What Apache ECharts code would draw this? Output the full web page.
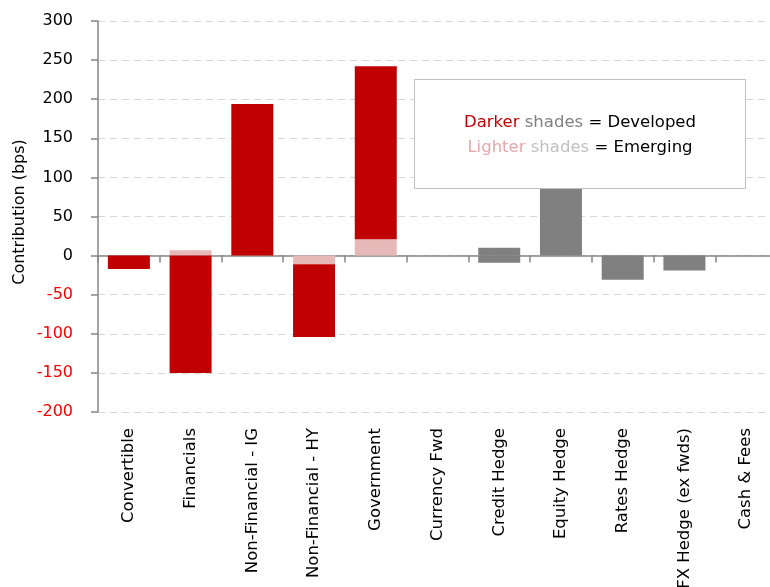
<!DOCTYPE html>
<html>
<head>
<meta charset="utf-8">
<script src="https://cdn.jsdelivr.net/npm/echarts@6/dist/echarts.min.js"></script>
<style>html,body{margin:0;padding:0;background:#fff}#c{width:770px;height:587px}</style>
</head>
<body>
<div id="c"></div>
<script>
var categories = ['Convertible', 'Financials', 'Non-Financial - IG', 'Non-Financial - HY', 'Government', 'Currency Fwd', 'Credit Hedge', 'Equity Hedge', 'Rates Hedge', 'FX Hedge (ex fwds)', 'Cash & Fees'];
var developed = [-17, -150, 194, -93, 221, 0, null, null, null, null, 0];
var emerging = [0, 7, 0, -11, 21, 0, null, null, null, null, 0];
var hedgeLong = [null, null, null, null, null, null, 10, 110, 0, 0, null];
var hedgeShort = [null, null, null, null, null, null, -9, 0, -31, -19, null];
var yTicks = { min: -200, max: 300, interval: 50 };

var FONT = 'DejaVu Sans';
var chart = echarts.init(document.getElementById('c'), null, { renderer: 'canvas' });
chart.setOption({
  animation: false,
  backgroundColor: '#ffffff',
  grid: { left: 98, top: 21, width: 679, height: 391, outerBoundsMode: 'none', containLabel: false },
  xAxis: [{
    type: 'category', data: categories, position: 'bottom',
    axisLine: { onZero: true, lineStyle: { color: '#868686', width: 1.5 } },
    axisTick: { show: true, length: 7, interval: 0, alignWithLabel: false, lineStyle: { color: '#868686', width: 1.5 } },
    axisLabel: { show: false }, splitLine: { show: false }
  }, {
    type: 'category', data: categories, position: 'bottom',
    axisLine: { show: false, onZero: false }, axisTick: { show: false },
    axisLabel: { show: true, rotate: 90, interval: 0, margin: 16, fontFamily: FONT, fontSize: 16.5, color: '#000' },
    splitLine: { show: false }
  }],
  yAxis: {
    type: 'value', min: yTicks.min, max: yTicks.max, interval: yTicks.interval,
    axisLine: { show: true, lineStyle: { color: '#868686', width: 1.5 } },
    axisTick: { show: true, length: 7, lineStyle: { color: '#868686', width: 1.5 } },
    axisLabel: { margin: 25, fontFamily: FONT, fontSize: 16, color: function (v) { return v < 0 ? '#ff0000' : '#000000'; } },
    splitLine: { show: true, lineStyle: { color: '#d9d9d9', type: [7, 5], width: 1 } }
  },
  series: [
    { name: 'Emerging', type: 'bar', stack: 's', data: emerging, barWidth: 42, itemStyle: { color: '#e6b9b8' } },
    { name: 'Developed', type: 'bar', stack: 's', data: developed, barWidth: 42, itemStyle: { color: '#c00000' } },
    { name: 'Hedge +', type: 'bar', stack: 's', data: hedgeLong, barWidth: 42, itemStyle: { color: '#808080' } },
    { name: 'Hedge -', type: 'bar', stack: 's', data: hedgeShort, barWidth: 42, itemStyle: { color: '#808080' } }
  ],
  graphic: [
    { type: 'text', x: 20, y: 212, rotation: Math.PI / 2, style: { text: 'Contribution (bps)', font: '16px "DejaVu Sans"', fill: '#000', align: 'center', verticalAlign: 'middle' } },
    { type: 'rect', z: 100, shape: { x: 414.5, y: 79.5, width: 331, height: 109 }, style: { fill: '#ffffff', stroke: '#bfbfbf', lineWidth: 1 } },
    { type: 'text', z: 101, x: 580, y: 135, style: {
        text: '{a|Darker }{b|shades }{c|= Developed}\n{d|Lighter }{e|shades }{c|= Emerging}',
        align: 'center', verticalAlign: 'middle', lineHeight: 25,
        rich: {
          a: { fill: '#c00000', font: '16.5px "DejaVu Sans"', lineHeight: 25 },
          b: { fill: '#808080', font: '16.5px "DejaVu Sans"', lineHeight: 25 },
          c: { fill: '#000000', font: '16.5px "DejaVu Sans"', lineHeight: 25 },
          d: { fill: '#e6a8a8', font: '16.5px "DejaVu Sans"', lineHeight: 25 },
          e: { fill: '#c0c0c0', font: '16.5px "DejaVu Sans"', lineHeight: 25 }
        }
      } }
  ]
});
</script>
</body>
</html>
